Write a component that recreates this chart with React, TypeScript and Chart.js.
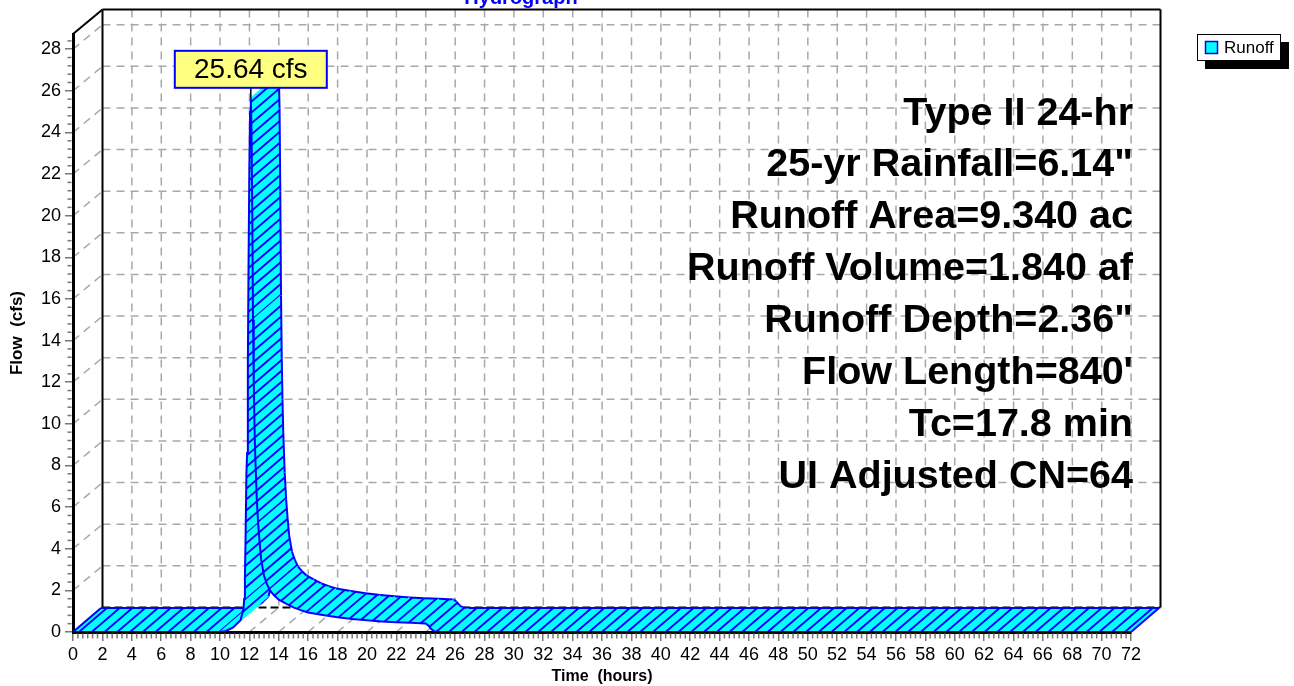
import React, { useEffect, useRef } from "react";
import { Chart, registerables } from "chart.js";

Chart.register(...registerables);

// ---- data ----
const hours = [0, 10.0, 10.4, 10.9, 11.4, 11.6, 11.65, 11.7, 11.75, 11.8, 11.85, 11.9, 11.95, 12.0, 12.05, 12.1, 12.15, 12.2, 12.25, 12.3, 12.35, 12.4, 12.5, 12.6, 12.7, 12.8, 13.0, 13.2, 13.4, 13.7, 14.0, 14.5, 15.0, 15.5, 16.0, 17.0, 18.0, 19.0, 20.0, 21.0, 22.0, 23.0, 24.0, 24.2, 24.4, 24.6, 25.0, 72.0];
const flows = [0, 0, 0.05, 0.22, 0.56, 1.1, 1.6, 2.6, 4.8, 7.6, 8.6, 13.0, 18.0, 22.2, 25.0, 25.64, 24.0, 20.0, 15.0, 12.0, 10.0, 8.5, 6.5, 5.2, 4.3, 3.5, 2.7, 2.3, 2.0, 1.75, 1.55, 1.36, 1.18, 1.05, 0.94, 0.82, 0.71, 0.62, 0.56, 0.51, 0.47, 0.44, 0.41, 0.3, 0.13, 0.03, 0, 0];

const xMax = 72;
const yMax = 28.73;
const xTickStep = 2;
const yTickStep = 2;
const xMinorPerMajor = 6;
const yMinorPerMajor = 5;
const seriesName = "Runoff";
const chartTitle = "Hydrograph";
const xTitle = "Time  (hours)";
const yTitle = "Flow  (cfs)";
const peakUnit = "cfs";
const infoLines = [
  "Type II 24-hr",
  '25-yr Rainfall=6.14"',
  "Runoff Area=9.340 ac",
  "Runoff Volume=1.840 af",
  'Runoff Depth=2.36"',
  "Flow Length=840'",
  "Tc=17.8 min",
  "UI Adjusted CN=64",
];

// ---- styles ----
const FONT = "Arial, 'Liberation Sans', sans-serif";
const WALL = { dx: 29.5, dy: -24.5 };
const RIB = { dx: 28, dy: -24 };
const CYAN = "#00ffff";
const BLUE = "#0000ff";

function seg(ctx: CanvasRenderingContext2D, x1: number, y1: number, x2: number, y2: number) {
  ctx.beginPath();
  ctx.moveTo(x1, y1);
  ctx.lineTo(x2, y2);
  ctx.stroke();
}

const wallPlugin = {
  id: "wall",
  beforeDraw(chart: any) {
    const { ctx, chartArea: a } = chart;
    const xs = chart.scales.x;
    const ys = chart.scales.y;
    ctx.save();
    ctx.fillStyle = "#fff";
    ctx.fillRect(0, 0, chart.width, chart.height);
    const bl = a.left + WALL.dx;
    const br = a.right + WALL.dx;
    const bt = a.top + WALL.dy;
    const bb = a.bottom + WALL.dy;
    ctx.strokeStyle = "#a8a8a8";
    ctx.lineWidth = 1.5;
    ctx.setLineDash([8, 6]);
    ys.ticks.forEach((t: any) => {
      const py = ys.getPixelForValue(t.value);
      if (t.value > 0) {
        seg(ctx, bl, py + WALL.dy, br, py + WALL.dy);
        seg(ctx, a.left, py, bl, py + WALL.dy);
      }
    });
    xs.ticks.forEach((t: any) => {
      const px = xs.getPixelForValue(t.value);
      if (t.value > 0 && t.value < xMax) {
        seg(ctx, px + WALL.dx, bt, px + WALL.dx, bb);
        seg(ctx, px, a.bottom, px + WALL.dx, bb);
      }
    });
    ctx.setLineDash([]);
    ctx.strokeStyle = "#000";
    ctx.lineWidth = 2;
    seg(ctx, bl, bt, bl, bb);
    seg(ctx, bl, bt, br, bt);
    seg(ctx, br, bt, br, bb);
    seg(ctx, a.left, a.top, bl, bt);
    ctx.setLineDash([8, 4]);
    seg(ctx, bl, bb, br, bb);
    ctx.restore();
  },
};

const ribbonPlugin = {
  id: "ribbon",
  beforeDatasetsDraw(chart: any) {
    const ctx: CanvasRenderingContext2D = chart.ctx;
    const meta = chart.getDatasetMeta(0);
    const pts = meta.data.map((p: any) => ({ x: p.x, y: p.y }));
    const dl = Math.hypot(RIB.dx, RIB.dy);
    const d = { x: RIB.dx / dl, y: RIB.dy / dl };
    const n = { x: -d.y, y: d.x };
    const sp = 8.3;
    ctx.save();
    for (let i = 0; i < pts.length - 1; i++) {
      const f0 = pts[i];
      const f1 = pts[i + 1];
      const len = Math.hypot(f1.x - f0.x, f1.y - f0.y) || 1;
      const ext = 0.7;
      const ux = ((f1.x - f0.x) / len) * ext;
      const uy = ((f1.y - f0.y) / len) * ext;
      const a0 = i > 0 ? { x: f0.x - ux, y: f0.y - uy } : f0;
      const a1 = i < pts.length - 2 ? { x: f1.x + ux, y: f1.y + uy } : f1;
      const q = [a0, a1, { x: a1.x + RIB.dx, y: a1.y + RIB.dy }, { x: a0.x + RIB.dx, y: a0.y + RIB.dy }];
      ctx.beginPath();
      q.forEach((p, k) => (k ? ctx.lineTo(p.x, p.y) : ctx.moveTo(p.x, p.y)));
      ctx.closePath();
      ctx.fillStyle = CYAN;
      ctx.fill();
      ctx.save();
      ctx.clip();
      const cs = q.map((p) => p.x * n.x + p.y * n.y);
      const ts = q.map((p) => p.x * d.x + p.y * d.y);
      const cmin = Math.min(...cs);
      const cmax = Math.max(...cs);
      const tmin = Math.min(...ts) - 3;
      const tmax = Math.max(...ts) + 3;
      ctx.strokeStyle = BLUE;
      ctx.lineWidth = 1.9;
      ctx.beginPath();
      for (let k = Math.ceil(cmin / sp); k * sp <= cmax; k++) {
        const c = k * sp;
        ctx.moveTo(n.x * c + d.x * tmin, n.y * c + d.y * tmin);
        ctx.lineTo(n.x * c + d.x * tmax, n.y * c + d.y * tmax);
      }
      ctx.stroke();
      ctx.restore();
      ctx.strokeStyle = BLUE;
      ctx.lineWidth = 2;
      seg(ctx, f0.x + RIB.dx, f0.y + RIB.dy, f1.x + RIB.dx, f1.y + RIB.dy);
    }
    const first = pts[0];
    const last = pts[pts.length - 1];
    ctx.strokeStyle = BLUE;
    ctx.lineWidth = 2;
    seg(ctx, first.x, first.y, first.x + RIB.dx, first.y + RIB.dy);
    seg(ctx, last.x, last.y, last.x + RIB.dx, last.y + RIB.dy);
    ctx.restore();
  },
};

const overlayPlugin = {
  id: "overlay",
  afterDraw(chart: any) {
    const ctx: CanvasRenderingContext2D = chart.ctx;
    const a = chart.chartArea;
    const xs = chart.scales.x;
    const ys = chart.scales.y;
    ctx.save();
    // minor ticks
    ctx.strokeStyle = "#777";
    ctx.lineWidth = 1.5;
    const yMinor = yTickStep / yMinorPerMajor;
    for (let i = 1; i * yMinor < yMax; i++) {
      if (i % yMinorPerMajor === 0) continue;
      const py = ys.getPixelForValue(i * yMinor);
      seg(ctx, a.left - 5.5, py, a.left - 1.5, py);
    }
    const xMinor = xTickStep / xMinorPerMajor;
    for (let i = 1; i * xMinor < xMax - 1e-6; i++) {
      if (i % xMinorPerMajor === 0) continue;
      const px = xs.getPixelForValue(i * xMinor);
      seg(ctx, px, a.bottom + 1.5, px, a.bottom + 6.5);
    }

    // peak label
    let peakIdx = 0;
    flows.forEach((v, i) => {
      if (v > flows[peakIdx]) peakIdx = i;
    });
    const pp = chart.getDatasetMeta(0).data[peakIdx];
    const bw = 152;
    const bh = 37;
    const bx = pp.x - bw / 2;
    const by = pp.y - 10.5 - bh;
    ctx.strokeStyle = "#000";
    ctx.lineWidth = 1.5;
    seg(ctx, pp.x, by + bh, pp.x, pp.y);
    ctx.fillStyle = "#ffff80";
    ctx.fillRect(bx, by, bw, bh);
    ctx.strokeStyle = BLUE;
    ctx.lineWidth = 2;
    ctx.strokeRect(bx, by, bw, bh);
    ctx.fillStyle = "#000";
    ctx.font = `28px ${FONT}`;
    ctx.textAlign = "center";
    ctx.textBaseline = "middle";
    ctx.fillText(`${flows[peakIdx].toFixed(2)} ${peakUnit}`, pp.x, by + bh / 2 + 1);

    // info text
    ctx.font = `bold 39.5px ${FONT}`;
    ctx.textAlign = "right";
    ctx.textBaseline = "alphabetic";
    infoLines.forEach((s, i) => ctx.fillText(s, 1133, 124.5 + i * 51.9));

    // legend
    ctx.fillStyle = "#000";
    ctx.fillRect(1205, 42, 84, 27);
    ctx.fillStyle = "#fff";
    ctx.fillRect(1197, 34, 84, 27);
    ctx.strokeStyle = "#000";
    ctx.lineWidth = 1;
    ctx.strokeRect(1197.5, 34.5, 83, 26);
    ctx.fillStyle = CYAN;
    ctx.fillRect(1205, 41, 13, 13);
    ctx.strokeStyle = BLUE;
    ctx.lineWidth = 1.5;
    ctx.strokeRect(1205.5, 41.5, 12, 12);
    ctx.fillStyle = "#000";
    ctx.font = `17px ${FONT}`;
    ctx.textAlign = "left";
    ctx.textBaseline = "middle";
    ctx.fillText(seriesName, 1224, 48);

    // axis titles
    ctx.font = `bold 16px ${FONT}`;
    ctx.textAlign = "center";
    ctx.textBaseline = "middle";
    ctx.fillText(xTitle, (a.left + a.right) / 2, 677);
    ctx.font = `bold 17px ${FONT}`;
    ctx.save();
    ctx.translate(17, (a.top + a.bottom) / 2);
    ctx.rotate(-Math.PI / 2);
    ctx.fillText(yTitle, 0, 0);
    ctx.restore();

    // chart title (cut at top)
    ctx.fillStyle = BLUE;
    ctx.font = `bold 20px ${FONT}`;
    ctx.textBaseline = "alphabetic";
    ctx.fillText(chartTitle, 521, 4);
    ctx.restore();
  },
};

export default function App() {
  const ref = useRef<HTMLCanvasElement>(null);
  useEffect(() => {
    const canvas = ref.current!;
    Chart.defaults.font.family = FONT;
    Chart.defaults.color = "#000";
    const chart = new Chart(canvas, {
      type: "line",
      data: {
        datasets: [
          {
            label: seriesName,
            data: hours.map((h, i) => ({ x: h, y: flows[i] })),
            borderColor: BLUE,
            borderWidth: 2,
            pointRadius: 0,
            pointHoverRadius: 0,
            fill: false,
            tension: 0,
          },
        ],
      },
      options: {
        animation: false,
        responsive: false,
        maintainAspectRatio: false,
        devicePixelRatio: 1,
        events: [],
        layout: { padding: { left: 0, right: 163, top: 34, bottom: 0 } },
        plugins: {
          legend: { display: false },
          tooltip: { enabled: false },
          title: { display: false },
        },
        scales: {
          x: {
            type: "linear",
            min: 0,
            max: xMax,
            ticks: {
              stepSize: xTickStep,
              autoSkip: false,
              maxRotation: 0,
              minRotation: 0,
              includeBounds: false,
              color: "#000",
              font: { size: 18 },
              padding: 3,
            },
            grid: { drawOnChartArea: false, drawTicks: true, tickLength: 9, color: "#777", lineWidth: 1.5 },
            border: { display: true, color: "#000", width: 3 },
            afterFit: (s: any) => {
              s.height = 686 - 632;
            },
          },
          y: {
            type: "linear",
            min: 0,
            max: yMax,
            ticks: {
              stepSize: yTickStep,
              includeBounds: false,
              color: "#000",
              font: { size: 18 },
              padding: 4,
            },
            grid: { drawOnChartArea: false, drawTicks: true, tickLength: 8, color: "#777", lineWidth: 1.5 },
            border: { display: true, color: "#000", width: 3 },
            afterFit: (s: any) => {
              s.width = 73;
            },
          },
        },
      } as any,
      plugins: [wallPlugin, ribbonPlugin, overlayPlugin],
    });
    return () => chart.destroy();
  }, []);
  return (
    <div style={{ position: "fixed", left: 0, top: 0, width: 1294, height: 686, background: "#fff" }}>
      <canvas ref={ref} width={1294} height={686} style={{ display: "block", width: 1294, height: 686 }} />
    </div>
  );
}
